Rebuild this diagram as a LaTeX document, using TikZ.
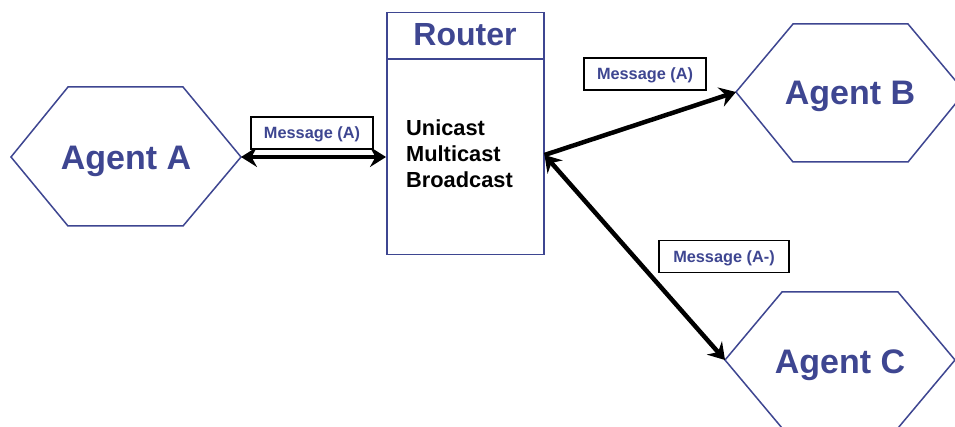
\documentclass[tikz,border=0pt]{standalone}
\usepackage{fontspec}
\setmainfont{Liberation Sans}
\usetikzlibrary{arrows.meta}
\definecolor{navy}{RGB}{62,70,145}
\begin{document}
\begin{tikzpicture}[x=1pt,y=-1pt,
  hexline/.style={draw=navy, line width=1.5pt, line join=miter},
  agent/.style={text=navy, font=\fontsize{34}{36}\selectfont\bfseries, inner sep=0pt,
    text height=24pt, text depth=0pt},
  msg/.style={draw=black, line width=1.3pt, text=navy, fill=white,
    font=\fontsize{16.3}{18}\selectfont\bfseries,
    text height=11.7pt, text depth=0pt,
    minimum height=32pt, inner sep=0pt},
  tipA/.tip={Stealth[length=16pt,width=20pt,inset=5.5pt]},
  link/.style={line width=4.5pt, tipA-tipA},
  oneway/.style={line width=4.5pt, -tipA},
]
\useasboundingbox (0,0) rectangle (955,427);
\clip (0,0) rectangle (955,427);
\fill[white] (0,0) rectangle (955,427);

% Agent A
\draw[hexline] (11,157) -- (68,87) -- (183,87) -- (241,157) -- (183,226) -- (68,226) -- cycle;
\node[agent] (agentA) at (126,158) {Agent A};
\coordinate (Ar) at (241,157);

% Agent B
\draw[hexline] (736,92) -- (793,24) -- (908,24) -- (965,92) -- (908,162) -- (793,162) -- cycle;
\node[agent] (agentB) at (850,93) {Agent B};
\coordinate (Bl) at (736,92);

% Agent C
\draw[hexline] (725,360) -- (782,292) -- (898,292) -- (955,360) -- (898,428) -- (782,428) -- cycle;
\node[agent] (agentC) at (840,361) {Agent C};
\coordinate (Cl) at (725,360);

% Router
\node[draw=navy, line width=1.5pt, minimum width=157pt, minimum height=242pt,
      inner sep=0pt, anchor=north west] (router) at (386,12) {};
\draw[navy, line width=1.5pt] ([yshift=-47pt]router.north west) -- ([yshift=-47pt]router.north east);
\node[text=navy, font=\fontsize{32}{36}\selectfont\bfseries, inner sep=0pt] (title) at (465,35) {Router};
\node[anchor=west, align=left, inner sep=0pt,
      font=\fontsize{21.8}{26}\selectfont\bfseries] (modes) at (406,154) {Unicast\\Multicast\\Broadcast};
\coordinate (hub) at ([yshift=-143pt]router.north east);

% Connectors
\draw[link] (Ar) -- (Ar -| router.west);
\draw[oneway] (hub) -- (Bl);
\draw[link] (hub) -- (Cl);

% Message labels
\node[msg, minimum width=122pt] (m1) at (312,133) {Message (A)};
\node[msg, minimum width=122pt] (m2) at (645,74) {Message (A)};
\node[msg, minimum width=130pt] (m3) at (724,256.5) {Message (A-)};
\end{tikzpicture}
\end{document}
